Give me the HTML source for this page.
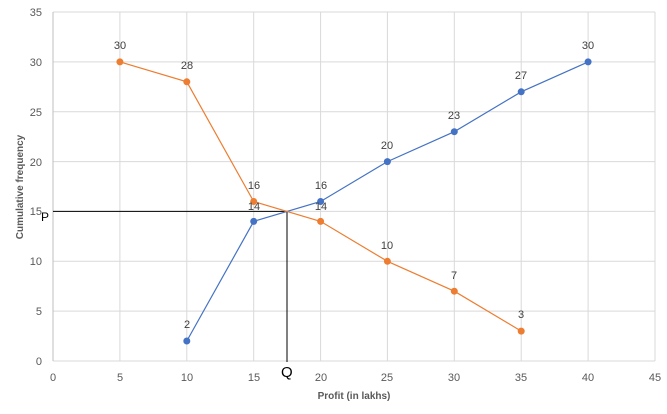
<!DOCTYPE html><html><head><style>body{margin:0;background:#fff}svg{display:block;font-family:"Liberation Sans",sans-serif}</style></head><body>
<svg width="667" height="414" xmlns="http://www.w3.org/2000/svg">
<g stroke="#d9d9d9" stroke-width="1">
<line x1="53" x2="655" y1="12" y2="12"/><line x1="53" x2="655" y1="61.9" y2="61.9"/><line x1="53" x2="655" y1="111.7" y2="111.7"/><line x1="53" x2="655" y1="161.6" y2="161.6"/><line x1="53" x2="655" y1="211.4" y2="211.4"/><line x1="53" x2="655" y1="261.3" y2="261.3"/><line x1="53" x2="655" y1="311.1" y2="311.1"/><line x1="53" x2="655" y1="361" y2="361"/>
<line x1="119.9" x2="119.9" y1="12" y2="361"/><line x1="186.8" x2="186.8" y1="12" y2="361"/><line x1="253.7" x2="253.7" y1="12" y2="361"/><line x1="320.6" x2="320.6" y1="12" y2="361"/><line x1="387.4" x2="387.4" y1="12" y2="361"/><line x1="454.3" x2="454.3" y1="12" y2="361"/><line x1="521.2" x2="521.2" y1="12" y2="361"/><line x1="588.1" x2="588.1" y1="12" y2="361"/><line x1="655" x2="655" y1="12" y2="361"/>
</g>
<line x1="53" x2="53" y1="12" y2="361" stroke="#bfbfbf"/>
<g fill="#595959" font-size="11" text-anchor="end">
<text x="42" y="16">35</text><text x="42" y="66">30</text><text x="42" y="116">25</text><text x="42" y="166">20</text><text x="42" y="215">15</text><text x="42" y="265">10</text><text x="42" y="315">5</text><text x="42" y="365">0</text>
</g>
<g fill="#595959" font-size="11" text-anchor="middle">
<text x="53" y="381">0</text><text x="120" y="381">5</text><text x="187" y="381">10</text><text x="254" y="381">15</text><text x="321" y="381">20</text><text x="387" y="381">25</text><text x="454" y="381">30</text><text x="521" y="381">35</text><text x="588" y="381">40</text><text x="655" y="381">45</text>
</g>
<text x="354" y="399" font-size="10" font-weight="bold" fill="#595959" text-anchor="middle">Profit (in lakhs)</text>
<text transform="translate(23,187) rotate(-90)" font-size="10" font-weight="bold" fill="#595959" text-anchor="middle">Cumulative frequency</text>
<line x1="53" x2="287" y1="211.4" y2="211.4" stroke="#000"/>
<line x1="287" x2="287" y1="211.4" y2="362" stroke="#000"/>
<text x="41" y="221" font-size="12">P</text>
<text x="281" y="377" font-size="15">Q</text>
<polyline fill="none" stroke="#4472c4" stroke-width="1.2" points="186.8,341 253.7,221.4 320.6,201.5 387.4,161.6 454.3,131.7 521.2,91.8 588.1,61.9"/>
<polyline fill="none" stroke="#ed7d31" stroke-width="1.2" points="119.9,61.9 186.8,81.8 253.7,201.5 320.6,221.4 387.4,261.3 454.3,291.2 521.2,331.1"/>
<g fill="#4472c4"><circle cx="186.8" cy="341" r="3.5"/><circle cx="253.7" cy="221.4" r="3.5"/><circle cx="320.6" cy="201.5" r="3.5"/><circle cx="387.4" cy="161.6" r="3.5"/><circle cx="454.3" cy="131.7" r="3.5"/><circle cx="521.2" cy="91.8" r="3.5"/><circle cx="588.1" cy="61.9" r="3.5"/></g>
<g fill="#ed7d31"><circle cx="119.9" cy="61.9" r="3.5"/><circle cx="186.8" cy="81.8" r="3.5"/><circle cx="253.7" cy="201.5" r="3.5"/><circle cx="320.6" cy="221.4" r="3.5"/><circle cx="387.4" cy="261.3" r="3.5"/><circle cx="454.3" cy="291.2" r="3.5"/><circle cx="521.2" cy="331.1" r="3.5"/></g>
<g fill="#404040" font-size="11" text-anchor="middle">
<text x="187" y="328">2</text><text x="254" y="210">14</text><text x="321" y="189">16</text><text x="387" y="149">20</text><text x="454" y="119">23</text><text x="521" y="79">27</text><text x="588" y="49">30</text>
<text x="120" y="49">30</text><text x="187" y="69">28</text><text x="254" y="189">16</text><text x="321" y="210">14</text><text x="387" y="249">10</text><text x="454" y="279">7</text><text x="521" y="318">3</text>
</g>
</svg></body></html>
